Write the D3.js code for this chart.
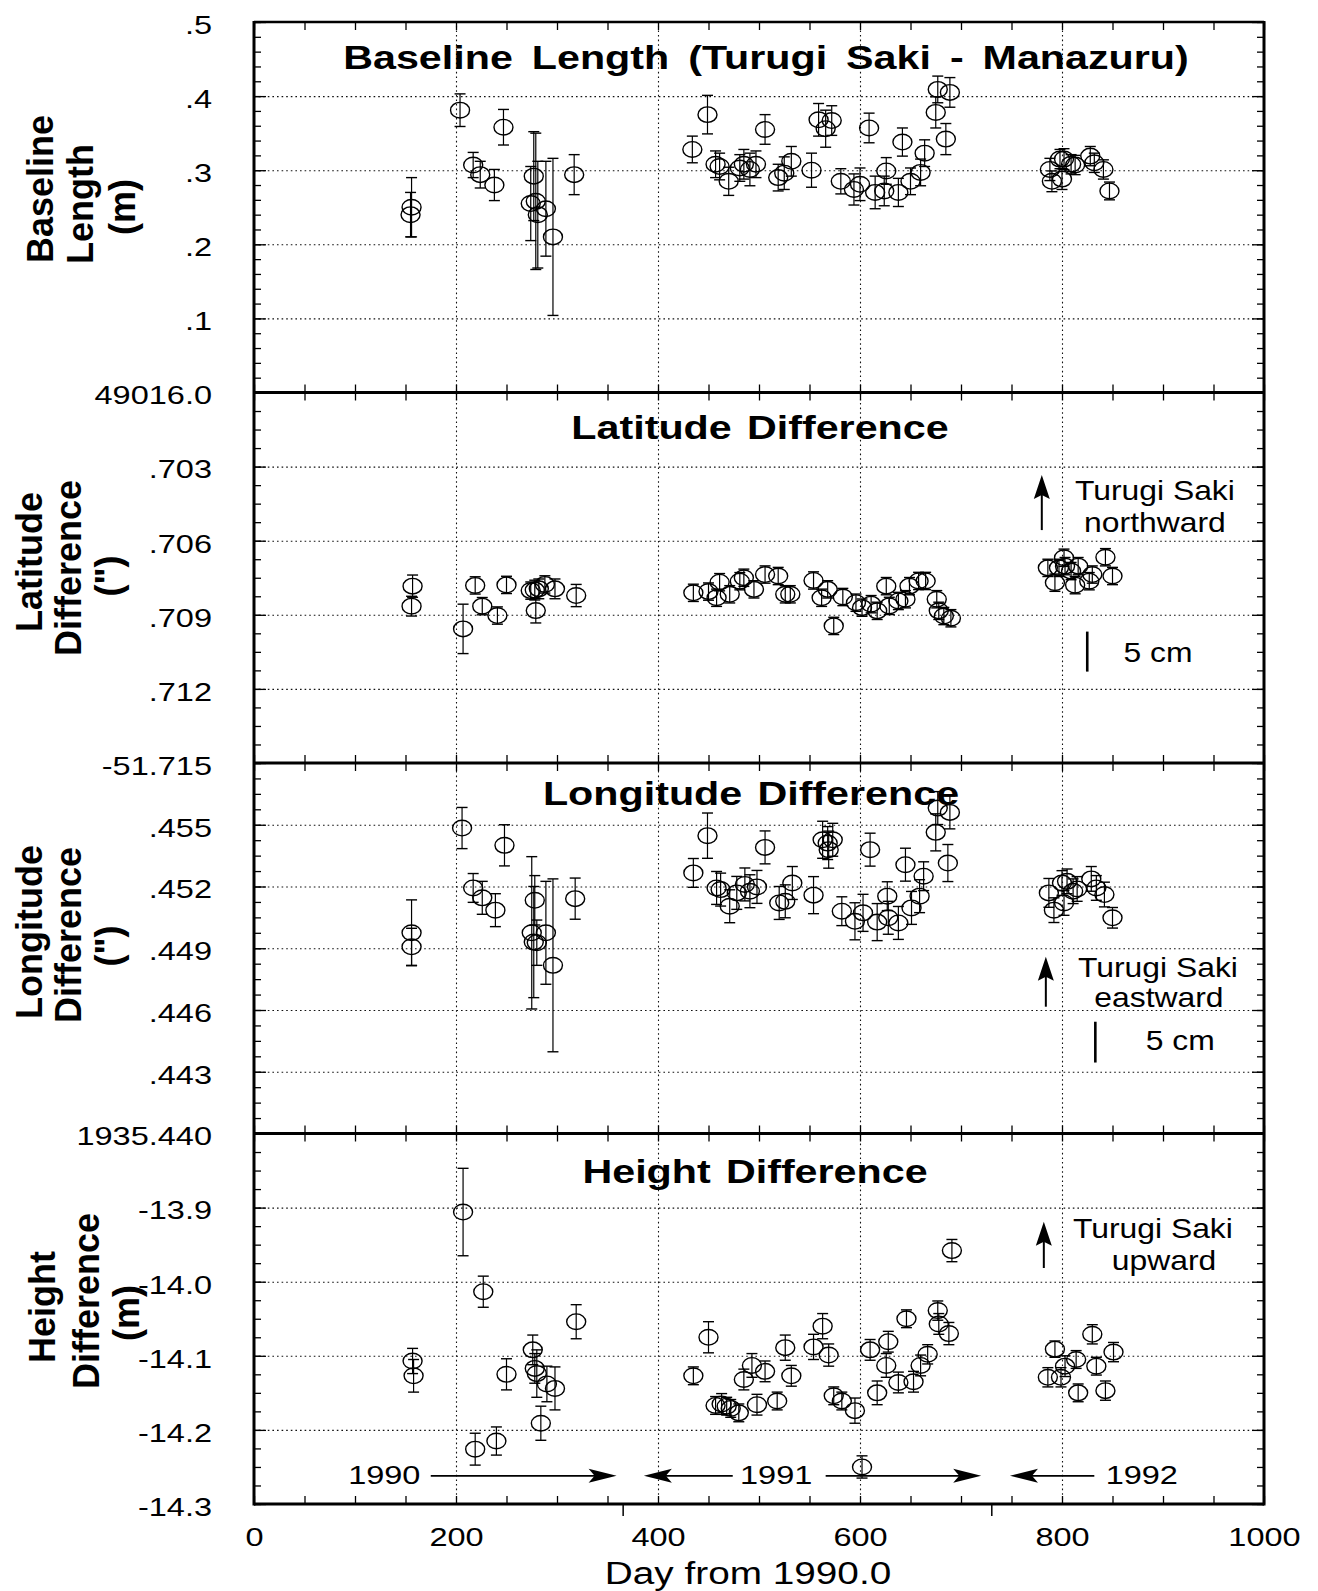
<!DOCTYPE html>
<html><head><meta charset="utf-8">
<script src="https://cdn.jsdelivr.net/npm/d3@7"></script>
<style>
body{margin:0;background:#fff}
svg text{font-family:"Liberation Sans",Arial,Helvetica,sans-serif;fill:#000}
</style>
</head><body>
<svg id="c" width="1318" height="1591"></svg>
<script>
// ---------------- DATA ----------------
// Baseline length (m) = 49016 + value
const blDay = [155,156,204,217,224,238,247,274,277,279,281,289,296,317,
  434,449,457,461,470,481,485,491,497,506,519,525,532,552,559,566,572,581,594,600,609,615,624,626,638,642,650,660,664,675,677,685,689,
  788,790,798,800,802,809,813,828,832,841,847];
const blVal = [49016.240,49016.250,49016.381,49016.307,49016.294,49016.280,49016.358,49016.255,49016.292,49016.258,49016.240,49016.248,49016.210,49016.294,
  49016.328,49016.375,49016.308,49016.305,49016.285,49016.303,49016.308,49016.301,49016.308,49016.355,49016.290,49016.296,49016.312,49016.300,49016.368,49016.356,49016.367,49016.285,49016.274,49016.281,49016.357,49016.270,49016.272,49016.299,49016.270,49016.338,49016.285,49016.297,49016.323,49016.378,49016.409,49016.342,49016.405,
  49016.301,49016.285,49016.315,49016.288,49016.315,49016.308,49016.307,49016.319,49016.310,49016.301,49016.272];
const blErr = [0.030,0.040,0.022,0.017,0.018,0.021,0.024,0.050,0.060,0.092,0.072,0.064,0.106,0.027,
  0.018,0.026,0.018,0.018,0.019,0.018,0.020,0.022,0.018,0.020,0.018,0.022,0.020,0.023,0.022,0.025,0.020,0.017,0.021,0.022,0.020,0.022,0.020,0.018,0.019,0.019,0.018,0.018,0.018,0.021,0.018,0.021,0.020,
  0.015,0.014,0.013,0.014,0.014,0.013,0.013,0.013,0.013,0.013,0.012];

// Latitude difference (arcsec)
const latDay = [156,157,207,219,226,241,250,274,278,279,282,288,298,319,
  435,450,458,461,471,481,485,495,506,519,526,531,554,562,568,574,583,596,602,611,617,626,629,638,645,649,658,665,676,678,683,690,
  786,793,797,802,803,809,813,816,827,830,843,850];
const latVal = [-51.70865,-51.70784,-51.70957,-51.70781,-51.70865,-51.70903,-51.70779,-51.70802,-51.70800,-51.70883,-51.70795,-51.70777,-51.70795,-51.70822,
  -51.70811,-51.70806,-51.70831,-51.70768,-51.70817,-51.70764,-51.70750,-51.70797,-51.70737,-51.70743,-51.70817,-51.70817,-51.70761,-51.70831,-51.70797,-51.70945,-51.70828,-51.70851,-51.70871,-51.70857,-51.70884,-51.70784,-51.70864,-51.70844,-51.70837,-51.70784,-51.70763,-51.70763,-51.70837,-51.70884,-51.70905,-51.70914,
  -51.70710,-51.70770,-51.70710,-51.70669,-51.70703,-51.70723,-51.70780,-51.70703,-51.70764,-51.70737,-51.70667,-51.70743];
const latErr = [0.00040,0.00045,0.00100,0.00035,0.00035,0.00035,0.00035,0.00035,0.00040,0.00050,0.00040,0.00035,0.00040,0.00045,
  0.00035,0.00035,0.00035,0.00035,0.00035,0.00035,0.00035,0.00035,0.00035,0.00035,0.00035,0.00035,0.00035,0.00035,0.00035,0.00035,0.00035,0.00035,0.00035,0.00035,0.00035,0.00035,0.00035,0.00035,0.00035,0.00035,0.00035,0.00035,0.00035,0.00035,0.00035,0.00035,
  0.00035,0.00035,0.00035,0.00035,0.00035,0.00035,0.00035,0.00035,0.00035,0.00035,0.00035,0.00035];

// Longitude difference (arcsec)
const lonDay = [156,156,206,217,226,239,248,275,278,277,280,289,296,318,
  435,449,458,462,471,478,486,491,498,506,520,526,533,554,563,568,569,573,582,595,603,610,617,627,628,638,645,651,659,663,675,677,687,689,
  787,792,800,802,805,811,815,829,834,842,850];
const lonVal = [1935.44975,1935.44907,1935.45484,1935.45193,1935.45145,1935.45085,1935.45400,1935.44975,1935.45133,1935.44930,1935.44927,1935.44975,1935.44817,1935.45141,
  1935.45266,1935.45447,1935.45193,1935.45185,1935.45104,1935.45169,1935.45210,1935.45177,1935.45198,1935.45390,1935.45120,1935.45128,1935.45217,1935.45158,1935.45427,1935.45411,1935.45379,1935.45427,1935.45080,1935.45031,1935.45072,1935.45379,1935.45027,1935.45153,1935.45048,1935.45023,1935.45306,1935.45096,1935.45153,1935.45250,1935.45463,1935.45581,1935.45314,1935.45560,
  1935.45169,1935.45085,1935.45217,1935.45120,1935.45225,1935.45177,1935.45188,1935.45237,1935.45193,1935.45161,1935.45048];
const lonErr = [0.0016,0.0009,0.0010,0.0007,0.0008,0.0008,0.0010,0.0037,0.0012,0.0027,0.0011,0.0025,0.0042,0.0010,
  0.0007,0.0011,0.0008,0.0008,0.0008,0.0008,0.0008,0.0008,0.0008,0.0008,0.0008,0.0008,0.0008,0.0009,0.0009,0.0008,0.0009,0.0008,0.0007,0.0009,0.0009,0.0008,0.0009,0.0007,0.0008,0.0008,0.0008,0.0008,0.0008,0.0007,0.0009,0.0008,0.0009,0.0008,
  0.0007,0.0006,0.0006,0.0006,0.0006,0.0006,0.0006,0.0006,0.0006,0.0006,0.0005];

// Height difference (m)
const htDay = [157,158,207,219,227,240,250,276,278,280,284,290,298,319,
  435,450,457,463,468,472,480,485,493,498,506,518,526,532,554,563,569,574,582,595,602,610,617,626,628,638,646,653,660,667,677,678,688,691,
  786,793,799,803,814,816,830,834,843,851];
const htVal = [-14.107,-14.127,-13.906,-14.226,-14.0135,-14.215,-14.125,-14.092,-14.117,-14.124,-14.191,-14.138,-14.144,-14.054,
  -14.127,-14.075,-14.167,-14.165,-14.168,-14.171,-14.177,-14.132,-14.113,-14.166,-14.121,-14.161,-14.089,-14.127,-14.088,-14.060,-14.099,-14.154,-14.161,-14.174,-14.250,-14.092,-14.150,-14.113,-14.081,-14.136,-14.050,-14.135,-14.113,-14.098,-14.039,-14.057,-14.070,-13.958,
  -14.129,-14.091,-14.129,-14.114,-14.105,-14.150,-14.071,-14.114,-14.147,-14.095];
const htErr = [0.017,0.022,0.059,0.0215,0.021,0.019,0.021,0.020,0.020,0.032,0.023,0.024,0.029,0.023,
  0.012,0.021,0.012,0.014,0.012,0.012,0.012,0.014,0.016,0.014,0.014,0.012,0.017,0.014,0.017,0.017,0.015,0.012,0.012,0.017,0.015,0.014,0.016,0.016,0.014,0.014,0.012,0.014,0.014,0.013,0.013,0.014,0.015,0.015,
  0.013,0.011,0.013,0.014,0.012,0.012,0.013,0.012,0.013,0.013];

// Axes / ticks
const xTicks = [0,200,400,600,800,1000];
const xGrid = [200,400,600,800];
const yearBoundaryDays = [365,730];
const blDomain = [49016.0, 49016.5];
const blTicks = [49016.0,49016.1,49016.2,49016.3,49016.4,49016.5];
const blTickLabels = ["49016.0",".1",".2",".3",".4",".5"];
const latDomain = [-51.715,-51.700];
const latTicks = [-51.715,-51.712,-51.709,-51.706,-51.703];
const latTickLabels = ["-51.715",".712",".709",".706",".703"];
const lonDomain = [1935.440,1935.458];
const lonTicks = [1935.440,1935.443,1935.446,1935.449,1935.452,1935.455];
const lonTickLabels = ["1935.440",".443",".446",".449",".452",".455"];
const htDomain = [-14.3,-13.8];
const htTicks = [-14.3,-14.2,-14.1,-14.0,-13.9];
const htTickLabels = ["-14.3","-14.2","-14.1","-14.0","-13.9"];

const panelTitles = ["Baseline Length (Turugi Saki - Manazuru)","Latitude Difference","Longitude Difference","Height Difference"];
const yTitles = [["Baseline","Length","(m)"],["Latitude","Difference","(\")"],["Longitude","Difference","(\")"],["Height","Difference","(m)"]];
const xTitle = "Day from 1990.0";
const dirLabels = [["Turugi Saki","northward"],["Turugi Saki","eastward"],["Turugi Saki","upward"]];
const yearLabels = ["1990","1991","1992"];

// ---------------- LAYOUT ----------------
const SX = 1.25;
const X0 = 254, X1 = 1264, TOP = 22, PH = 370.5, BOT = TOP + 4*PH;
const x = d3.scaleLinear().domain([0,1000]).range([X0,X1]);
const svg = d3.select('#c');

function stext(g, px, py, str, size, weight, anchor, sx){
  return g.append('text')
    .attr('transform', `translate(${px},${py}) scale(${sx||SX},1)`)
    .attr('text-anchor', anchor||'middle')
    .style('font-size', size+'px').style('font-weight', weight||'normal')
    .text(str);
}
function clean(g){ g.attr('font-family',null).attr('font-size',null); g.select('.domain').remove(); return g; }

const panels = [
  {day:blDay,val:blVal,err:blErr,domain:blDomain,ticks:blTicks,labels:blTickLabels,minor:0.02},
  {day:latDay,val:latVal,err:latErr,domain:latDomain,ticks:latTicks,labels:latTickLabels,minor:0.00075},
  {day:lonDay,val:lonVal,err:lonErr,domain:lonDomain,ticks:lonTicks,labels:lonTickLabels,minor:0.00075},
  {day:htDay,val:htVal,err:htErr,domain:htDomain,ticks:htTicks,labels:htTickLabels,minor:0.025}
];
const titleLayout = [[766,69,6],[760,439,3],[751,805,3],[755,1183,3]];
const yTitleLayout = [
  [[40,189],[80,204],[122,207]],
  [[29,562],[68,568],[108,576]],
  [[29,932],[68,935],[108,946]],
  [[42,1307],[86,1301],[126,1313]]
];

// vertical grid
clean(svg.append('g').attr('transform',`translate(0,${BOT})`)
  .call(d3.axisBottom(x).tickValues(xGrid).tickSize(-(BOT-TOP)).tickFormat('')))
  .selectAll('line').attr('stroke','#111').attr('stroke-width',1.1).attr('stroke-dasharray','1.6,3');

const scales = [];
panels.forEach((p,i)=>{
  const top = TOP + i*PH, bottom = top + PH;
  const y = d3.scaleLinear().domain(p.domain).range([bottom, top]);
  scales.push(y);
  const lo = p.domain[0], hi = p.domain[1];
  const n = Math.round((hi-lo)/p.minor);
  const minor = d3.range(n+1).map(k=>lo + k*p.minor);
  const interior = p.ticks.filter(t=> Math.abs(t-lo)>1e-9 && Math.abs(t-hi)>1e-9);
  const g = svg.append('g');
  // horizontal grid
  clean(g.append('g').attr('transform',`translate(${X0},0)`)
    .call(d3.axisLeft(y).tickValues(interior).tickSize(-(X1-X0)).tickFormat('')))
    .selectAll('line').attr('stroke','#111').attr('stroke-width',1.1).attr('stroke-dasharray','1.6,3');
  // minor ticks
  clean(g.append('g').attr('transform',`translate(${X0},0)`).call(d3.axisLeft(y).tickValues(minor).tickSize(-7).tickFormat('')))
    .selectAll('line').attr('stroke-width',1.3);
  clean(g.append('g').attr('transform',`translate(${X1},0)`).call(d3.axisRight(y).tickValues(minor).tickSize(-7).tickFormat('')))
    .selectAll('line').attr('stroke-width',1.3);
  // major ticks with labels
  const la = clean(g.append('g').attr('transform',`translate(${X0},0)`)
    .call(d3.axisLeft(y).tickValues(p.ticks).tickSize(-12).tickPadding(42).tickFormat((d,k)=>p.labels[k])));
  la.selectAll('line').attr('stroke-width',1.3);
  la.selectAll('text').each(function(){
    const t = d3.select(this);
    t.attr('x', (+t.attr('x'))/SX).attr('y',3).attr('transform',`scale(${SX},1)`).style('font-size','26px');
  });
  clean(g.append('g').attr('transform',`translate(${X1},0)`).call(d3.axisRight(y).tickValues(p.ticks).tickSize(-12).tickFormat('')))
    .selectAll('line').attr('stroke-width',1.3);

  // data: error bars + circles
  const idx = d3.range(p.day.length);
  const dg = g.append('g').attr('stroke','#000').attr('fill','none');
  dg.selectAll('line.eb').data(idx).join('line').attr('class','eb')
    .attr('x1',k=>x(p.day[k])).attr('x2',k=>x(p.day[k]))
    .attr('y1',k=>y(p.val[k]-p.err[k])).attr('y2',k=>y(p.val[k]+p.err[k])).attr('stroke-width',1.2);
  dg.selectAll('line.ct').data(idx).join('line').attr('class','ct')
    .attr('x1',k=>x(p.day[k])-5.5).attr('x2',k=>x(p.day[k])+5.5)
    .attr('y1',k=>y(p.val[k]+p.err[k])).attr('y2',k=>y(p.val[k]+p.err[k])).attr('stroke-width',1.4);
  dg.selectAll('line.cb').data(idx).join('line').attr('class','cb')
    .attr('x1',k=>x(p.day[k])-5.5).attr('x2',k=>x(p.day[k])+5.5)
    .attr('y1',k=>y(p.val[k]-p.err[k])).attr('y2',k=>y(p.val[k]-p.err[k])).attr('stroke-width',1.4);
  dg.selectAll('ellipse').data(idx).join('ellipse')
    .attr('cx',k=>x(p.day[k])).attr('cy',k=>y(p.val[k])).attr('rx',9.5).attr('ry',7.8).attr('stroke-width',1.4);

  // title
  stext(svg, titleLayout[i][0], titleLayout[i][1], panelTitles[i], 33, 'bold').style('word-spacing', titleLayout[i][2]+'px');
  // y axis titles
  yTitles[i].forEach((s,j)=>{
    const [cx,cy] = yTitleLayout[i][j];
    svg.append('text').attr('transform',`translate(${cx},${cy}) rotate(-90)`)
      .attr('text-anchor','middle').attr('dy','0.36em')
      .style('font-size','36px').style('font-weight','bold').text(s);
  });
});

// x ticks on each horizontal boundary
[0,1,2,3,4].forEach(b=>{
  const yy = TOP + b*PH;
  if (b < 4) clean(svg.append('g').attr('transform',`translate(0,${yy})`).call(d3.axisBottom(x).tickValues(d3.range(0,1001,50)).tickSize(8).tickFormat('')))
    .selectAll('line').attr('stroke-width',1.3);
  if (b > 0) clean(svg.append('g').attr('transform',`translate(0,${yy})`).call(d3.axisTop(x).tickValues(d3.range(0,1001,50)).tickSize(8).tickFormat('')))
    .selectAll('line').attr('stroke-width',1.3);
});
// year boundary ticks below the axis
clean(svg.append('g').attr('transform',`translate(0,${BOT})`).call(d3.axisBottom(x).tickValues(yearBoundaryDays).tickSize(12).tickFormat('')))
  .selectAll('line').attr('stroke-width',1.5);
// x labels
const xa = clean(svg.append('g').attr('transform',`translate(0,${BOT})`).call(d3.axisBottom(x).tickValues(xTicks).tickSize(0).tickFormat(d3.format('d'))));
xa.selectAll('text').attr('y',42).attr('dy',0).attr('transform',`scale(${SX},1)`).style('font-size','26px');
stext(svg, 748, 1584, xTitle, 31);

// frame
const fr = svg.append('g').attr('stroke','#000');
fr.append('line').attr('x1',X0).attr('x2',X0).attr('y1',TOP-1).attr('y2',BOT+1.5).attr('stroke-width',3);
fr.append('line').attr('x1',X1).attr('x2',X1).attr('y1',TOP-1).attr('y2',BOT+1.5).attr('stroke-width',3);
fr.append('line').attr('x1',X0).attr('x2',X1).attr('y1',TOP).attr('y2',TOP).attr('stroke-width',2.5);
[1,2,3,4].forEach(b=> fr.append('line').attr('x1',X0).attr('x2',X1).attr('y1',TOP+b*PH).attr('y2',TOP+b*PH).attr('stroke-width',3));

// ---------------- ANNOTATIONS ----------------
function upArrow(px, yTail, yTip){
  const a = svg.append('g');
  a.append('line').attr('x1',px).attr('x2',px).attr('y1',yTail).attr('y2',yTip+18).attr('stroke','#000').attr('stroke-width',2);
  a.append('path').attr('d',`M${px},${yTip} L${px-8},${yTip+24} L${px},${yTip+20} L${px+8},${yTip+24} Z`).attr('fill','#000');
}
function hArrow(xTail, xTip, py){
  const dir = xTip > xTail ? 1 : -1;
  const a = svg.append('g');
  a.append('line').attr('x1',xTail).attr('x2',xTip - dir*20).attr('y1',py).attr('y2',py).attr('stroke','#000').attr('stroke-width',1.6);
  a.append('path').attr('d',`M${xTip},${py} L${xTip-dir*28},${py-7} L${xTip-dir*22},${py} L${xTip-dir*28},${py+7} Z`).attr('fill','#000');
}
const [yBL, yLat, yLon, yHt] = scales;
// Latitude: northward
upArrow(x(780), yLat(-51.70557), yLat(-51.70334));
stext(svg, x(892), yLat(-51.70435), dirLabels[0][0], 27, 'normal', 'middle', 1.18);
stext(svg, x(892), yLat(-51.70565), dirLabels[0][1], 27, 'normal', 'middle', 1.18);
const cm5Lat = 0.05/30.87;
svg.append('line').attr('x1',x(825)).attr('x2',x(825)).attr('y1',yLat(-51.70968)).attr('y2',yLat(-51.70968-cm5Lat)).attr('stroke','#000').attr('stroke-width',2.6);
stext(svg, x(895), yLat(-51.7109), '5 cm', 27, 'normal', 'middle', 1.18);
// Longitude: eastward
upArrow(x(784), yLon(1935.44616), yLon(1935.44859));
stext(svg, x(895), yLon(1935.44762), dirLabels[1][0], 27, 'normal', 'middle', 1.18);
stext(svg, x(896), yLon(1935.44616), dirLabels[1][1], 27, 'normal', 'middle', 1.18);
const cm5Lon = 0.05/(30.87*Math.cos(35.2*Math.PI/180));
svg.append('line').attr('x1',x(833)).attr('x2',x(833)).attr('y1',yLon(1935.44543)).attr('y2',yLon(1935.44543-cm5Lon)).attr('stroke','#000').attr('stroke-width',2.6);
stext(svg, x(917), yLon(1935.44406), '5 cm', 27, 'normal', 'middle', 1.18);
// Height: upward
upArrow(x(782), yHt(-13.9815), yHt(-13.919));
stext(svg, x(890), yHt(-13.941), dirLabels[2][0], 27, 'normal', 'middle', 1.18);
stext(svg, x(901), yHt(-13.984), dirLabels[2][1], 27, 'normal', 'middle', 1.18);
// Year spans
const yArr = yHt(-14.262), yTxt = yHt(-14.273);
stext(svg, x(129), yTxt, yearLabels[0], 26);
hArrow(x(175), x(359), yArr);
stext(svg, x(517), yTxt, yearLabels[1], 26);
hArrow(x(474), x(386), yArr);
hArrow(x(566), x(720), yArr);
stext(svg, x(879), yTxt, yearLabels[2], 26);
hArrow(x(832), x(748.5), yArr);
</script>
</body></html>
